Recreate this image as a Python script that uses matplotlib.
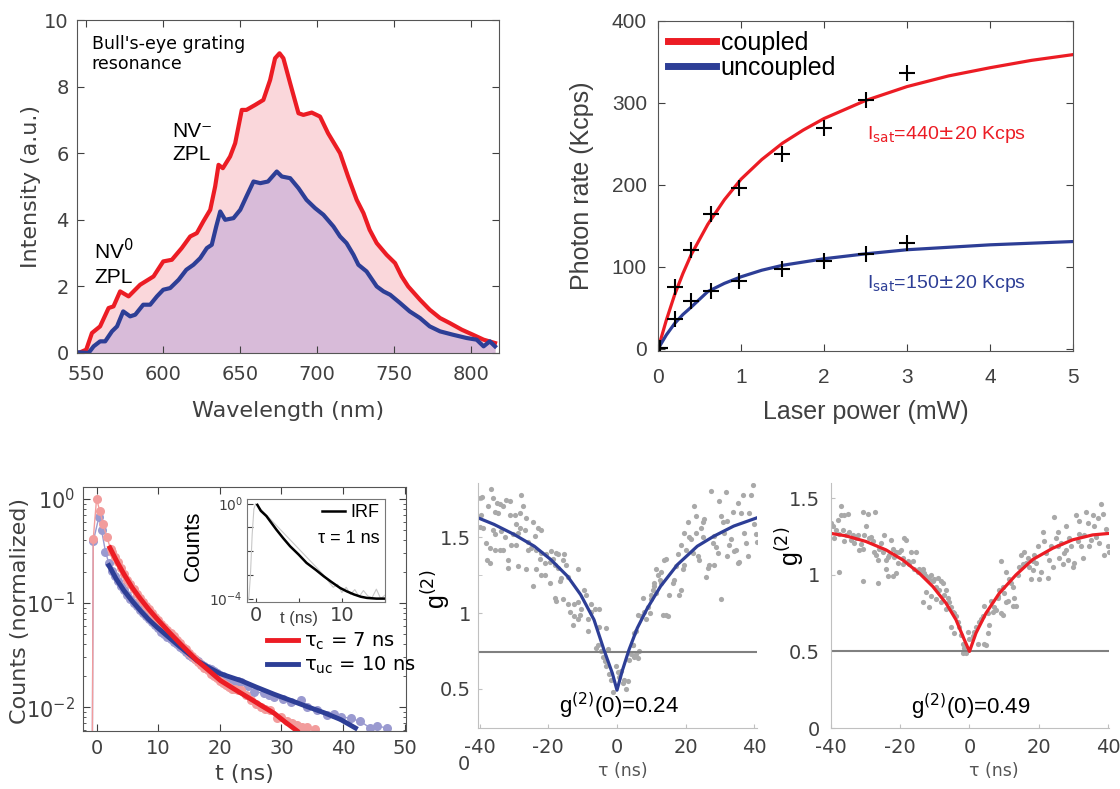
import matplotlib
matplotlib.use("Agg")
import matplotlib.pyplot as plt
import matplotlib.transforms as mtransforms

# colours
RED = '#EC1C24'
BLUE = '#2D3E96'
PINK_FILL = '#FAD7DB'
MAUVE_FILL = '#D8BBD9'
PINK_DOT = '#F29C9C'
LAV_DOT = '#9A9AD0'
GRAY_DOT = '#A9A9A9'
TXT = '#404040'
ARIAL = 'Liberation Sans'

plt.rcParams['font.family'] = ['DejaVu Sans']
plt.rcParams['axes.unicode_minus'] = False

# ---------------- spectrum data (a) ----------------
wl_c = [545, 550, 553.7, 559, 564.5, 567.7, 572, 577.5, 585, 593.7, 600, 605.6, 612, 617.5, 621.8,
        626, 630.5, 633.7, 635.9, 638.7, 643.4, 646.7, 651, 654, 659.7, 665, 669.4, 672.6, 675.5,
        678, 682.4, 687.8, 691, 696.4, 701.8, 707, 714.8, 720, 725.6, 730, 734, 738.6, 745, 750.5,
        754.8, 759, 766.7, 773, 779.7, 786, 793.8, 801, 808, 815.4]
int_c = [0, 0.1, 0.6, 0.8, 1.35, 1.4, 1.85, 1.7, 2.05, 2.3, 2.75, 2.8, 3.15, 3.5, 3.6,
         3.95, 4.3, 5.0, 5.65, 5.55, 5.9, 6.3, 7.3, 7.3, 7.45, 7.6, 8.2, 8.85, 9.0,
         8.85, 8.1, 7.2, 7.15, 7.22, 7.1, 6.6, 6.0, 5.3, 4.6, 4.2, 3.7, 3.3, 2.95, 2.7,
         2.3, 2.0, 1.6, 1.3, 1.05, 0.9, 0.7, 0.55, 0.4, 0.3]
wl_uc = [545, 551.5, 554.8, 559, 562.3, 566.7, 570, 574, 578.5, 581.8, 587, 591.5, 595.9, 600,
         604.5, 610, 615, 619.6, 624, 628.3, 631.5, 634.4, 637, 640.2, 645.6, 650, 654, 658.6,
         663, 668, 673.7, 677, 682.4, 687.8, 693, 698.6, 704, 710.5, 714.8, 719, 723.5, 726.7,
         732, 738.6, 743, 747.3, 753.8, 760, 766.7, 773, 779.7, 788, 797, 803.5, 808, 812, 815.4]
int_uc = [0.02, 0, 0.2, 0.35, 0.35, 0.65, 0.8, 1.25, 1.1, 1.15, 1.45, 1.45, 1.7, 1.9,
          1.95, 2.2, 2.5, 2.65, 2.85, 3.15, 3.25, 3.8, 4.25, 4.0, 4.05, 4.3, 4.7, 5.15,
          5.1, 5.15, 5.45, 5.3, 5.25, 4.95, 4.6, 4.35, 4.15, 3.8, 3.5, 3.3, 2.95, 2.65,
          2.45, 2.0, 1.85, 1.75, 1.5, 1.25, 1.05, 0.8, 0.65, 0.55, 0.45, 0.4, 0.2, 0.35, 0.2]

# ---------------- saturation data (b) ----------------
power = [0.02, 0.2, 0.4, 0.64, 0.97, 1.49, 2.0, 2.5, 3.0]
rate_c = [1, 76, 121, 165, 196, 238, 269, 304, 337]
rate_uc = [1, 37, 59, 71, 83, 97, 107, 116, 129]
fit_p = [0, 0.1, 0.2, 0.3, 0.4, 0.6, 0.8, 1.0, 1.25, 1.5, 1.75, 2.0, 2.5, 3.0, 3.5, 4.0, 4.5, 5.0]
fit_c = [0, 35, 66, 92, 115, 152, 182, 207, 231, 251, 267, 281, 303, 320, 333, 343, 352, 359]
fit_uc = [0, 17, 31, 42, 51, 70, 80, 88, 96, 102, 106, 110, 116, 121, 124, 127, 129, 131]

# ---------------- lifetime data (c) ----------------
t_c = [-0.8, -0.54, 0.0, 0.54, 1.08, 1.62, 2.3,
       2.5, 3.0, 3.5, 4.0, 4.5, 5.0, 5.5, 6.0, 6.5, 7.0, 7.5, 8.0, 8.5, 9.0, 9.5, 10.0,
       10.5, 11.0, 11.5, 12.0, 12.5, 13.0, 13.5, 14.0, 14.5, 15.0, 15.5, 16.0, 16.5, 17.0,
       17.5, 18.0, 18.5, 19.0, 19.5, 20.0, 20.5, 21.0, 21.5, 22.0, 22.5, 23.0,
       23.4, 24.2, 25.0, 25.8, 26.6, 27.4, 28.2, 29.2, 30.0, 30.9, 31.7, 32.5, 33.4, 34.2, 35.5]
cnt_c = [1e-4, 0.41, 1.0, 0.76, 0.57, 0.435, 0.331,
         0.31, 0.275, 0.245, 0.215, 0.19, 0.168, 0.152, 0.137, 0.123, 0.112, 0.103, 0.094,
         0.087, 0.080, 0.074, 0.068, 0.063, 0.059, 0.055, 0.051, 0.048, 0.044, 0.041, 0.038,
         0.036, 0.033, 0.031, 0.029, 0.027, 0.0255, 0.024, 0.0225, 0.021, 0.020, 0.019, 0.018,
         0.017, 0.0162, 0.0156, 0.015, 0.0148, 0.0145,
         0.0147, 0.013, 0.0118, 0.0108, 0.0101, 0.0097, 0.0094, 0.0078, 0.0080, 0.0073,
         0.0071, 0.0068, 0.0064, 0.0065, 0.0061]
t_uc = [-0.8, -0.54, 0.38, 0.81, 1.45, 2.0,
        2.5, 3.0, 3.5, 4.0, 4.5, 5.0, 5.5, 6.0, 6.5, 7.0, 7.5, 8.0, 8.5, 9.0, 9.5, 10.0,
        10.5, 11.0, 11.5, 12.0, 12.5, 13.0, 13.5, 14.0, 14.5, 15.0, 15.5, 16.0, 16.5, 17.0,
        17.5, 18.0, 18.5, 19.0, 19.5, 20.0, 20.5, 21.0, 21.5, 22.0, 22.5, 23.0,
        23.4, 24.5, 25.5, 27.1, 28.0, 28.8, 30.2, 31.5, 33.1, 34.2, 35.8, 37.4, 38.5, 39.6,
        41.2, 42.8, 44.4, 45.5, 47.1]
cnt_uc = [1e-4, 0.39, 0.67, 0.50, 0.31, 0.24,
          0.205, 0.182, 0.163, 0.147, 0.132, 0.120, 0.110, 0.101, 0.093, 0.086, 0.080, 0.075,
          0.070, 0.065, 0.061, 0.057, 0.053, 0.050, 0.047, 0.045, 0.042, 0.040, 0.038, 0.036,
          0.034, 0.032, 0.030, 0.029, 0.0275, 0.026, 0.025, 0.024, 0.023, 0.022, 0.0212,
          0.0205, 0.0198, 0.019, 0.0185, 0.018, 0.0178, 0.0177,
          0.0176, 0.0158, 0.0141, 0.0136, 0.0130, 0.0126, 0.0120, 0.0113, 0.0117, 0.0101,
          0.0094, 0.0084, 0.0086, 0.0081, 0.0078, 0.0073, 0.0063, 0.0066, 0.0063]
fit_t_c = [2.16, 3.3, 4.43, 5.8, 7.1, 8.4, 9.8, 11.7, 13.6, 16.3, 18.2, 20.1, 22.5, 24.97,
           26.9, 28.8, 30.6, 32.5]
fit_cnt_c = [0.339, 0.25, 0.19, 0.14, 0.11, 0.088, 0.0705, 0.053, 0.0405, 0.028, 0.0225,
             0.018, 0.0147, 0.012, 0.0102, 0.00875, 0.0072, 0.00593]
fit_t_uc = [2.0, 3.2, 4.43, 5.8, 7.1, 8.4, 9.8, 11.7, 13.6, 16.3, 18.2, 20.1, 23.4, 26.0,
            28.8, 31.5, 34.2, 37.0, 39.6, 42.0]
fit_cnt_uc = [0.229, 0.17, 0.132, 0.104, 0.0847, 0.070, 0.0586, 0.047, 0.0377, 0.028, 0.024,
              0.0209, 0.018, 0.0155, 0.0133, 0.0116, 0.0101, 0.0088, 0.0076, 0.0063]

# IRF inset
irf_raw_t = [-1.0, -0.8, -0.6, -0.4, -0.2, 0.0, 8.0, 8.5, 9.0, 9.5, 10.0, 10.5, 11.0, 11.5,
             12.0, 12.5, 13.0, 13.5, 14.0, 14.5, 15.0]
irf_raw = [1.2e-4, 9e-5, 1e-3, 0.05, 0.6, 1.0, 9e-4, 5e-4, 3e-4, 4e-4, 1.8e-4, 3e-4, 1.5e-4,
           2.4e-4, 1.2e-4, 2.2e-4, 1.3e-4, 1.1e-4, 2.5e-4, 1.0e-4, 1.4e-4]
irf_t = [0.2, 0.6, 1.25, 1.8, 2.4, 3.2, 4.0, 5.0, 5.9, 7.0, 7.9, 8.8, 9.8, 10.6, 11.4,
         12.2, 12.9, 14.0, 15.0]
irf_fit = [0.89, 0.5, 0.3, 0.16, 0.081, 0.035, 0.016, 0.0071, 0.0032, 0.0016, 0.00087,
           0.0005, 0.00028, 0.0002, 0.00015, 0.00012, 0.000107, 0.0001, 0.0001]

# ---------------- g2 data, uncoupled (d) ----------------
g2a_tau = [-40.0, -39.3, -36.8, -37.6, -36.1, -35.1, -34.2, -33.2, -32.2, -31.3, -27.9, -27.4,
           -35.6, -34.7, -40.0, -39.0, -39.5, -38.1, -37.1, -35.6, -34.2, -33.2, -37.8, -37.1,
           -31.7, -28.8, -31.7, -30.8, -29.3, -30.3, -28.8, -26.9, -36.1, -35.6, -33.7, -32.7,
           -31.3, -29.8, -28.4, -29.3, -28.4, -26.4, -24.5, -23.0, -22.1, -25.9, -25.0, -23.5,
           -22.1, -20.6, -19.1, -17.7, -15.3, -19.6, -18.2, -17.2, -14.8, -26.4, -23.5, -22.1,
           -21.1, -24.5, -19.6, -16.2, -14.3, -11.4, -18.2, -17.7, -15.7, -14.3, -13.8, -12.4,
           -11.4, -10.4, -12.4, -10.9, -12.9, -9.5, -9.0, -7.5, -6.5, -5.1, -7.5, -8.5, -5.1,
           -3.1, -6.0, -4.6, -4.1, -3.6, -3.1, -2.2, -1.7, -1.2, -2.6, -5.6, -8.5, -11.4, -16.7,
           -21.1, -22.5, -18.7, -17.2, -15.7, -24.0, -25.9,
           -0.25, 0.24, 0.72, 1.21, 1.7, 2.18, 2.67, 3.15, 3.64, 4.12, 4.61, 5.09, 5.58, 6.06,
           6.55, 4.61, 5.09, 5.58, 6.06, 7.03, 8.0, 8.5, 7.5, 9.0, 9.9, 9.5, 10.4, 10.9, 11.4,
           11.9, 12.4, 12.8, 13.3, 14.3, 14.8, 11.4, 10.9, 13.8, 14.3, 15.3, 16.2, 16.7, 17.2,
           17.7, 18.2, 18.7, 19.2, 19.6, 20.1, 19.6, 20.6, 21.1, 21.6, 22.1, 22.5, 23.0, 23.5,
           24.0, 24.5, 25.0, 25.5, 26.0, 26.4, 26.9, 27.4, 28.4, 28.9, 29.3, 27.9, 28.4, 29.8,
           30.3, 30.8, 31.3, 31.8, 32.2, 32.7, 33.2, 33.7, 34.2, 34.7, 35.2, 35.6, 36.1, 36.6,
           37.1, 37.6, 38.1, 38.5, 39.0, 39.5, 40.0, 40.5, 40.8, 30.3, 25.0, 32.2, 18.7, 12.8,
           9.9, 23.0, 35.2]
g2a_val = [1.76, 1.77, 1.82, 1.71, 1.76, 1.73, 1.72, 1.71, 1.75, 1.74, 1.78, 1.71,
           1.67, 1.66, 1.57, 1.56, 1.65, 1.46, 1.43, 1.42, 1.42, 1.42, 1.35, 1.33,
           1.30, 1.31, 1.35, 1.45, 1.45, 1.52, 1.53, 1.55, 1.55, 1.52, 1.54, 1.50,
           1.65, 1.65, 1.66, 1.59, 1.56, 1.63, 1.60, 1.56, 1.55, 1.47, 1.43, 1.42,
           1.40, 1.39, 1.41, 1.40, 1.39, 1.34, 1.32, 1.30, 1.32, 1.29, 1.29, 1.25,
           1.25, 1.18, 1.20, 1.23, 1.24, 1.29, 1.10, 1.08, 1.09, 1.06, 1.01, 1.06,
           1.07, 1.03, 0.98, 0.99, 0.92, 1.15, 1.12, 1.06, 1.03, 1.03, 1.01, 0.96, 0.91,
           0.90, 0.77, 0.75, 0.71, 0.68, 0.65, 0.60, 0.56, 0.48, 0.76, 0.79, 0.88, 0.96, 1.21,
           1.33, 1.36, 1.36, 1.39, 1.35, 1.51, 1.42,
           0.65, 0.61, 0.58, 0.62, 0.54, 0.56, 0.50, 0.55, 0.69, 0.73, 0.79, 0.71, 0.73, 0.70,
           0.75, 0.79, 0.87, 0.88, 0.99, 0.98, 1.01, 0.96, 1.10, 1.04, 1.09, 1.00, 1.15, 1.18, 1.13,
           1.25, 1.22, 1.27, 0.99, 0.99, 0.98, 1.29, 1.20, 1.35, 1.36, 1.12, 1.20, 1.22, 1.31,
           1.39, 1.12, 1.15, 1.29, 1.32, 1.42, 1.53, 1.60, 1.50, 1.49, 1.40, 1.71, 1.53, 1.38,
           1.35, 1.56, 1.60, 1.62, 1.24, 1.30, 1.32, 1.81, 1.51, 1.44, 1.40, 1.46, 1.32, 1.74,
           1.64, 1.60, 1.53, 1.80, 1.38, 1.45, 1.49, 1.67, 1.41, 1.42, 1.33, 1.34, 1.66, 1.78,
           1.53, 1.46, 1.38, 1.66, 1.78, 1.85, 1.59, 1.52, 1.47, 1.09, 1.50, 1.61, 1.45, 1.20,
           1.12, 1.64, 1.73]
g2a_fit_tau = [-41.6, -35.8, -30.0, -24.1, -19.3, -14.4, -10.6, -6.7, -3.8, -1.35, 0.0,
               1.56, 3.5, 5.9, 8.8, 12.7, 17.6, 23.4, 28.2, 34.0, 40.8]
g2a_fit = [1.64, 1.586, 1.52, 1.442, 1.354, 1.243, 1.122, 0.956, 0.757, 0.602, 0.49,
           0.62, 0.757, 0.90, 1.03, 1.177, 1.32, 1.442, 1.508, 1.575, 1.63]
g2a_line = 0.745

# ---------------- g2 data, coupled (e) ----------------
g2b_tau = [-40.0, -39.5, -39.0, -38.6, -38.1, -37.6, -37.1, -37.1, -36.2, -35.2, -36.6, -36.2,
           -35.7, -34.7, -34.2, -33.7, -33.3, -32.8, -32.3, -31.8, -31.3, -30.9, -30.9, -29.4,
           -30.4, -29.9, -28.9, -28.4, -28.0, -27.5, -27.2, -27.0, -26.5, -26.0, -25.6, -25.1,
           -24.6, -24.1, -23.6, -23.2, -22.7, -22.2, -21.7, -21.2, -20.7, -20.3, -19.8, -19.3,
           -18.8, -18.3, -17.9, -17.4, -16.9, -16.4, -15.9, -15.4, -15.0, -14.5, -14.0, -13.5,
           -13.0, -12.6, -12.1, -11.6, -11.1, -10.6, -10.2, -9.7, -9.2, -8.7, -8.2, -7.7, -7.3,
           -6.8, -6.3, -5.8, -5.3, -4.9, -4.4, -3.9, -3.4, -2.9, -2.4, -2.0, -1.5, -1.0, -2.0,
           -4.4, -5.3, -6.8, -8.2, -9.7, -11.1, -12.6, -13.5, -11.6, -37.6, -30.9, -26.5, -24.1,
           -22.2, -21.2, -23.6, -19.3,
           -0.53, -0.05, 0.92, 1.4, 1.88, 2.36, 2.84, 3.32, 3.8, 4.29, 4.77, 5.25, 5.73, 4.29,
           5.25, 6.21, 6.69, 7.18, 7.66, 8.14, 8.62, 9.1, 9.58, 9.58, 10.06, 10.55, 11.03, 11.51,
           11.99, 12.47, 12.95, 13.43, 9.1, 10.55, 13.92, 14.4, 14.88, 15.36, 15.84, 16.32, 16.81,
           17.29, 17.77, 18.25, 18.73, 19.21, 19.69, 20.18, 20.66, 21.14, 21.62, 22.1, 22.58,
           23.07, 23.55, 24.03, 24.51, 24.99, 25.47, 25.95, 26.44, 26.92, 27.4, 27.88, 28.36,
           28.84, 29.32, 29.81, 30.29, 30.77, 31.25, 31.73, 32.21, 32.7, 33.18, 33.66, 34.14,
           34.62, 35.1, 35.58, 36.07, 36.55, 37.03, 37.51, 37.99, 38.47, 38.95, 39.44, 39.92,
           40.2, 25.47, 27.88, 31.73, 18.25, 12.47, 8.14]
g2b_val = [1.34, 1.32, 1.24, 1.29, 1.36, 1.27, 1.45, 1.39, 1.39, 1.40, 1.29, 1.22,
           1.26, 1.28, 1.23, 1.26, 1.21, 1.24, 1.26, 1.16, 1.20, 1.17, 1.41, 1.40,
           1.26, 1.32, 1.24, 1.25, 1.22, 1.15, 1.41, 1.13, 1.10, 1.17, 1.21, 1.15,
           1.26, 1.10, 1.12, 1.13, 1.23, 1.17, 1.12, 1.15, 1.08, 1.15, 1.16, 1.11,
           1.24, 1.23, 1.09, 1.07, 1.15, 1.09, 1.04, 1.15, 1.02, 1.04, 1.02, 1.04,
           1.01, 0.99, 0.98, 0.97, 1.00, 0.96, 0.97, 0.92, 0.98, 0.90, 0.96, 0.95, 0.87,
           0.90, 0.85, 0.82, 0.79, 0.76, 0.75, 0.73, 0.69, 0.66, 0.61, 0.55, 0.52, 0.49, 0.49,
           0.62, 0.66, 0.78, 0.82, 0.84, 0.86, 0.89, 0.82, 0.79, 1.02, 0.96, 0.95, 1.04,
           0.99, 1.01, 0.99, 1.07,
           0.63, 0.58, 0.60, 0.63, 0.66, 0.55, 0.69, 0.71, 0.73, 0.55, 0.54, 0.62, 0.67, 0.80,
           0.75, 0.83, 0.76, 0.79, 0.77, 0.86, 0.90, 0.75, 0.74, 0.92, 0.88, 0.82, 0.83, 0.97,
           0.95, 0.80, 0.85, 0.80, 1.09, 1.02, 1.00, 1.05, 1.13, 1.07, 1.15, 1.08, 1.11,
           1.05, 0.97, 1.03, 1.13, 1.08, 1.19, 0.97, 1.02, 1.28, 1.22, 1.14, 0.98,
           1.10, 1.19, 1.05, 1.38, 1.24, 1.19, 1.11, 1.21, 1.07, 1.14, 1.16, 1.10,
           1.24, 1.19, 1.05, 1.08, 1.39, 1.22, 1.35, 1.19, 1.11, 1.26, 1.41, 1.34,
           1.19, 1.23, 1.39, 1.32, 1.25, 1.37, 1.21, 1.46, 1.40, 1.13, 1.30, 1.19,
           1.15, 1.28, 1.32, 1.27, 1.09, 0.92, 0.85]
g2b_fit_tau = [-41.45, -35.7, -29.9, -24.1, -19.3, -14.5, -10.6, -6.8, -3.9, -1.5, 0.0,
               1.88, 4.77, 8.62, 13.43, 18.25, 24.03, 29.81, 35.58, 40.9]
g2b_fit = [1.276, 1.255, 1.218, 1.163, 1.098, 1.011, 0.924, 0.816, 0.707, 0.577, 0.50,
           0.62, 0.75, 0.88, 1.0, 1.10, 1.174, 1.229, 1.261, 1.272]
g2b_line = 0.5

W, H = 1120, 789
fig = plt.figure(figsize=(W / 100, H / 100), dpi=100)


def box(x0, y0, x1, y1):
    # pixel box (left, top, right, bottom) -> figure fraction rect
    return [x0 / W, 1 - y1 / H, (x1 - x0) / W, (y1 - y0) / H]


# ================= (a) spectrum =================
ax1 = fig.add_axes(box(77, 20, 499, 353))
ax1.fill_between(wl_c, int_c, color=PINK_FILL, lw=0)
ax1.fill_between(wl_uc, int_uc, color=MAUVE_FILL, lw=0)
ax1.plot(wl_c, int_c, color=RED, lw=3, solid_joinstyle='round')
ax1.plot(wl_uc, int_uc, color=BLUE, lw=3, solid_joinstyle='round')
ax1.set_xlim(544, 818)
ax1.set_ylim(0, 10)
ax1.set_xticks([550, 600, 650, 700, 750, 800])
ax1.set_yticks([0, 2, 4, 6, 8, 10])
ax1.tick_params(direction='in', top=True, right=True, length=5, labelsize=14,
                colors=TXT, pad=9)
ax1.tick_params(axis='y', pad=6)
for s in ax1.spines.values():
    s.set_color('#555555')
ax1.set_xlabel('Wavelength (nm)', fontsize=16, color=TXT)
ax1.set_ylabel('Intensity (a.u.)', fontsize=16, color=TXT)
ax1.xaxis.set_label_coords(0.5, -0.145)
ax1.yaxis.set_label_coords(-0.085, 0.5)
ax1.text(553.5, 9.55, "Bull's-eye grating\nresonance", fontsize=12.5, va='top',
         linespacing=1.15)
ax1.text(606, 6.95, 'NV\u207b\nZPL', fontsize=15, family=[ARIAL, 'DejaVu Sans'], va='top',
         linespacing=1.3)
ax1.text(555, 3.45, 'NV$^{0}$\nZPL', fontsize=15, family=ARIAL, va='top', linespacing=1.3)

# ================= (b) saturation =================
ax2 = fig.add_axes(box(658, 21, 1073, 351))
ax2.plot(fit_p, fit_c, color=RED, lw=2.3, label='coupled')
ax2.plot(fit_p, fit_uc, color=BLUE, lw=2.3, label='uncoupled')
ax2.plot(power, rate_c, '+', color='black', ms=12, mew=1.5)
ax2.plot(power, rate_uc, '+', color='black', ms=12, mew=1.5)
ax2.set_xlim(0, 5)
ax2.set_ylim(-2.5, 400)
ax2.set_xticks([0, 1, 2, 3, 4, 5])
ax2.set_yticks([0, 100, 200, 300, 400])
ax2.tick_params(direction='in', top=True, right=True, length=5, labelsize=15,
                colors=TXT, pad=12)
ax2.tick_params(axis='y', pad=8)
for lab in ax2.get_xticklabels() + ax2.get_yticklabels():
    lab.set_family(ARIAL)
for s in ax2.spines.values():
    s.set_color('#555555')
ax2.set_xlabel('Laser power (mW)', fontsize=18, family=ARIAL, color=TXT)
ax2.set_ylabel('Photon rate (Kcps)', fontsize=18, family=ARIAL, color=TXT)
ax2.xaxis.set_label_coords(0.5, -0.15)
ax2.yaxis.set_label_coords(-0.155, 0.5)
leg2 = ax2.legend(loc='upper left', frameon=False, prop={'family': ARIAL, 'size': 18},
                  handlelength=1.9, handletextpad=0.2, labelspacing=0.05,
                  borderaxespad=0.1, borderpad=0.3)
for ln in leg2.get_lines():
    ln.set_linewidth(5)
ax2.text(2.52, 261, r'I$_{\rm sat}$=440$\pm$20 Kcps', color=RED, fontsize=14,
         family=ARIAL, va='center')
ax2.text(2.52, 80, r'I$_{\rm sat}$=150$\pm$20 Kcps', color=BLUE, fontsize=14,
         family=ARIAL, va='center')

# ================= (c) lifetime =================
ax3 = fig.add_axes(box(83, 487, 406, 731))
ax3.set_yscale('log')
ax3.plot(t_uc, cnt_uc, '-o', color=LAV_DOT, lw=1, ms=6.5, mec='none')
ax3.plot(t_c, cnt_c, '-o', color=PINK_DOT, lw=1, ms=6.5, mec='none')
ax3.plot(fit_t_uc, fit_cnt_uc, color=BLUE, lw=3.5, label=r'τ$_{\rm uc}$ = 10 ns')
ax3.plot(fit_t_c, fit_cnt_c, color=RED, lw=3.5, label=r'τ$_{\rm c}$ = 7 ns')
ax3.set_xlim(-2.2, 50.2)
ax3.set_ylim(0.0059, 1.3)
ax3.set_xticks([0, 10, 20, 30, 40, 50])
ax3.tick_params(which='both', direction='in', top=True, right=True, colors=TXT,
                labelsize=14, pad=6)
ax3.tick_params(which='major', length=5)
ax3.tick_params(which='minor', length=2.5)
ax3.tick_params(axis='y', labelsize=15)
for s in ax3.spines.values():
    s.set_color('#555555')
ax3.set_xlabel('t (ns)', fontsize=16, color=TXT)
ax3.set_ylabel('Counts (normalized)', fontsize=16, color=TXT)
ax3.xaxis.set_label_coords(0.5, -0.135)
ax3.yaxis.set_label_coords(-0.165, 0.49)
h3, l3 = ax3.get_legend_handles_labels()
ax3.legend(h3[::-1], l3[::-1], loc='upper left', bbox_to_anchor=(0.57, 0.41),
           frameon=False, fontsize=14, handlelength=1.6, handletextpad=0.3,
           labelspacing=0.15, borderaxespad=0, borderpad=0)

# inset
axi = fig.add_axes(box(247, 499, 385, 602))
axi.set_yscale('log')
axi.plot(irf_raw_t, irf_raw, color='#C8C8C8', lw=0.8)
axi.plot(irf_t, irf_fit, color='black', lw=1.8, label='IRF')
axi.set_xlim(-1, 15)
axi.set_ylim(7.2e-5, 1.57)
axi.set_xticks([0, 5, 10, 15])
axi.set_xticklabels(['0', '', '10', ''])
axi.set_yticks([1, 1e-1, 1e-2, 1e-3, 1e-4])
axi.set_yticklabels(['$10^{0}$', '', '', '', '$10^{-4}$'])
axi.tick_params(which='both', direction='in', colors=TXT, pad=3)
axi.tick_params(axis='x', labelsize=14, length=3)
axi.tick_params(axis='y', labelsize=10, length=4)
axi.tick_params(which='minor', length=2)
for s in axi.spines.values():
    s.set_color('#777777')
axi.text(5, -0.16, 't (ns)', transform=mtransforms.blended_transform_factory(
    axi.transData, axi.transAxes), ha='center', va='center', fontsize=12,
    family=ARIAL, color=TXT)
axi.set_ylabel('Counts', fontsize=16, family=ARIAL, color='black')
axi.yaxis.set_label_coords(-0.31, 0.55)
axi.legend(loc='upper right', frameon=False, prop={'family': ARIAL, 'size': 13},
           handlelength=1.3, handletextpad=0.3, borderaxespad=0.1, borderpad=0.2)
axi.text(0.96, 0.62, 'τ = 1 ns', transform=axi.transAxes, ha='right', va='center',
         fontsize=13, family=ARIAL)


# ================= (d), (e) g2 =================
def g2_axes(ax):
    for side in ('top', 'right'):
        ax.spines[side].set_visible(False)
    for side in ('left', 'bottom'):
        ax.spines[side].set_color('#C0C0C0')
    ax.tick_params(which='both', direction='in', length=3, color='#C0C0C0',
                   labelcolor=TXT, labelsize=14, pad=5)
    ax.tick_params(axis='x', pad=7)
    ax.set_xticks([-40, -20, 0, 20, 40])


ax4 = fig.add_axes(box(478, 483, 757, 728))
g2_axes(ax4)
ax4.axhline(g2a_line, color='#808080', lw=1.5)
ax4.scatter(g2a_tau, g2a_val, s=14, color=GRAY_DOT, lw=0)
ax4.plot(g2a_fit_tau, g2a_fit, color=BLUE, lw=2.3)
ax4.set_xlim(-40.5, 40.8)
ax4.set_ylim(0.24, 1.86)
ax4.set_yticks([0.5, 1, 1.5])
ax4.set_yticklabels(['0.5', '1', '1.5'])
ax4.set_yticks([1.25, 1.75], minor=True)
ax4.text(-0.03, 0, '0', transform=mtransforms.blended_transform_factory(
    ax4.transAxes, ax4.transData), ha='right', va='center', fontsize=14, color=TXT,
    clip_on=False)
ax4.set_xlabel('τ (ns)', fontsize=12.5, color='#555555')
ax4.xaxis.set_label_coords(0.52, -0.14)
ax4.set_ylabel('g$^{(2)}$', fontsize=18, family=ARIAL)
ax4.yaxis.set_label_coords(-0.09, 0.565)
ax4.text(0.5, 0.383, 'g$^{(2)}$(0)=0.24', ha='center', va='center', fontsize=16,
         family=ARIAL)

ax5 = fig.add_axes(box(831, 483, 1109, 728))
g2_axes(ax5)
ax5.axhline(g2b_line, color='#808080', lw=1.5)
ax5.scatter(g2b_tau, g2b_val, s=14, color=GRAY_DOT, lw=0)
ax5.plot(g2b_fit_tau, g2b_fit, color=RED, lw=2.3)
ax5.set_xlim(-40, 40.3)
ax5.set_ylim(0, 1.6)
ax5.set_yticks([0, 0.5, 1, 1.5])
ax5.set_yticklabels(['0', '0.5', '1', '1.5'])
ax5.tick_params(axis='y', pad=8)
ax5.set_xlabel('τ (ns)', fontsize=12.5, color='#555555')
ax5.xaxis.set_label_coords(0.586, -0.14)
ax5.set_ylabel('g$^{(2)}$', fontsize=18, family=ARIAL)
ax5.yaxis.set_label_coords(-0.085, 0.74)
ax5.text(0.5, 0.14, 'g$^{(2)}$(0)=0.49', ha='center', va='center', fontsize=16,
         family=ARIAL)

fig.savefig('out.png', dpi=100)
